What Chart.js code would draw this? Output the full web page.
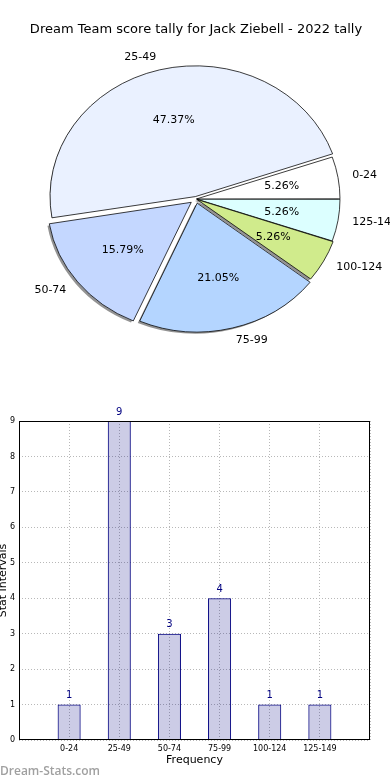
<!DOCTYPE html>
<html>
<head>
<meta charset="utf-8">
<title>Dream Team score tally</title>
<script src="https://cdn.jsdelivr.net/npm/chart.js@4/dist/chart.umd.min.js"></script>
<style>
  body { margin: 0; width: 390px; height: 780px; background: #fff; position: relative; overflow: hidden; }
  #pieWrap { position: absolute; left: 0; top: 0; width: 390px; height: 370px; }
  #barWrap { position: absolute; left: 0; top: 380px; width: 390px; height: 400px; }
  #brand { position: absolute; left: 0; top: 762px; font: 600 12px "Open Sans", sans-serif; color: #a0a0a0; }
</style>
</head>
<body>
<div id="pieWrap"><canvas id="pieChart" width="390" height="370"></canvas></div>
<div id="barWrap"><canvas id="barChart" width="390" height="400"></canvas></div>
<div id="brand">Dream-Stats.com</div>
<script>
// score intervals and number of games in each
const intervals = ["0-24", "25-49", "50-74", "75-99", "100-124", "125-149"];
const counts = [1, 9, 3, 4, 1, 1];
// y axis tick labels of the bar chart
const countTicks = [0, 1, 2, 3, 4, 5, 6, 7, 8, 9];

const FONT = "DejaVu Sans";
const total = counts.reduce((a, b) => a + b, 0);

// slice look (same order as intervals)
const sliceColors = ["#ffffff", "#eaf1ff", "#c4d7ff", "#b4d5ff", "#d0eb8c", "#dcffff"];
const explode = [2.4, 11, 24, 19, 5, 2.4];
const SY = 0.9; // pie is squashed a bit vertically

// matplotlib goes counter clockwise from 3 o'clock, chart.js clockwise,
// so the pie gets everything reversed
const rev = arr => arr.slice().reverse();

// how far chart.js moves an arc for its offset
function shift(arc) {
  const off = (arc.options.offset || 0) / 4;
  const d = off * (2 - Math.sin(Math.min(Math.PI, arc.circumference)));
  const mid = (arc.startAngle + arc.endAngle) / 2;
  return { mid, dx: Math.cos(mid) * d, dy: Math.sin(mid) * d };
}

const squashPie = {
  id: "squashPie",
  beforeDatasetsDraw(chart) {
    const ctx = chart.ctx;
    const arcs = chart.getDatasetMeta(0).data;
    const cx = arcs[0].x, cy = arcs[0].y;
    ctx.save();
    ctx.translate(cx, cy);
    ctx.scale(1, SY);
    ctx.translate(-cx, -cy);
    // drop shadow under all wedges
    ctx.fillStyle = "rgba(40,40,40,0.5)";
    ctx.beginPath();
    arcs.forEach(arc => {
      const s = shift(arc);
      const x = arc.x + s.dx - 2, y = arc.y + s.dy + 2;
      ctx.moveTo(x, y);
      ctx.arc(x, y, arc.outerRadius, arc.startAngle, arc.endAngle);
      ctx.closePath();
    });
    ctx.fill();
  },
  afterDatasetsDraw(chart) {
    const ctx = chart.ctx;
    ctx.restore();
    const arcs = chart.getDatasetMeta(0).data;
    const labels = chart.data.labels;
    const values = chart.data.datasets[0].data;
    ctx.save();
    ctx.font = "11px '" + FONT + "'";
    ctx.fillStyle = "#000";
    ctx.textBaseline = "middle";
    arcs.forEach((arc, i) => {
      const s = shift(arc);
      const R = arc.outerRadius;
      const px = k => arc.x + s.dx + Math.cos(s.mid) * R * k;
      const py = k => arc.y + (s.dy + Math.sin(s.mid) * R * k) * SY;
      ctx.textAlign = "center";
      ctx.fillText((values[i] / total * 100).toFixed(2) + "%", px(0.6), py(0.6));
      ctx.textAlign = Math.cos(s.mid) > 0 ? "left" : "right";
      ctx.fillText(labels[i], px(1.1), py(1.1));
    });
    ctx.restore();
  }
};

new Chart(document.getElementById("pieChart"), {
  type: "pie",
  data: {
    labels: rev(intervals),
    datasets: [{
      data: rev(counts),
      backgroundColor: rev(sliceColors),
      offset: rev(explode),
      borderColor: "#000",
      borderWidth: 0.8
    }]
  },
  options: {
    responsive: false,
    animation: false,
    events: [],
    rotation: 90,
    radius: 143,
    layout: { padding: { left: 2, right: 0, top: 0, bottom: 9.6 } },
    plugins: {
      legend: { display: false },
      tooltip: { enabled: false },
      title: {
        display: true,
        text: "Dream Team score tally for Jack Ziebell - 2022 tally",
        color: "#000",
        font: { family: FONT, size: 13, weight: "normal" },
        padding: { top: 22, bottom: 0 }
      }
    }
  },
  plugins: [squashPie]
});

// box round the plot area plus the numbers over the bars
const frame = {
  id: "frame",
  afterDatasetsDraw(chart) {
    const { ctx, chartArea: a } = chart;
    ctx.save();
    ctx.strokeStyle = "#000";
    ctx.lineWidth = 1;
    ctx.strokeRect(a.left + 0.5, a.top + 0.5, a.right - a.left - 1, a.bottom - a.top - 1);
    ctx.font = "10px '" + FONT + "'";
    ctx.fillStyle = "#000080";
    ctx.textAlign = "center";
    ctx.textBaseline = "middle";
    chart.getDatasetMeta(0).data.forEach((bar, i) => {
      ctx.fillText(counts[i], bar.x, bar.y - 9);
    });
    ctx.restore();
  }
};

const gridStyle = { color: "#b8b8b8", drawTicks: false };
const borderStyle = { display: false, dash: [1, 2] };

new Chart(document.getElementById("barChart"), {
  type: "bar",
  data: {
    datasets: [{
      data: counts.map((c, i) => ({ x: i, y: c })),
      backgroundColor: "rgba(0,0,128,0.2)",
      borderColor: "#000080",
      borderWidth: 1,
      barPercentage: 0.46,
      categoryPercentage: 1
    }]
  },
  options: {
    responsive: false,
    animation: false,
    events: [],
    layout: { padding: { top: 41, right: 20, left: 0, bottom: 0 } },
    plugins: { legend: { display: false }, tooltip: { enabled: false } },
    scales: {
      x: {
        type: "linear",
        offset: false,
        min: -1,
        max: intervals.length,
        afterFit: s => { s.height = 40; },
        ticks: {
          stepSize: 1, autoSkip: false, maxRotation: 0, padding: 4,
          color: "#000", font: { family: FONT, size: 8 },
          callback: v => intervals[v] || ""
        },
        grid: { ...gridStyle, offset: false },
        border: borderStyle,
        title: {
          display: true, text: "Frequency", color: "#000",
          font: { family: FONT, size: 11 }, padding: { top: 0, bottom: 13 }
        }
      },
      y: {
        min: countTicks[0],
        max: countTicks[countTicks.length - 1],
        afterFit: s => { s.width = 19; },
        ticks: { stepSize: 1, padding: 4, color: "#000", font: { family: FONT, size: 8 } },
        grid: gridStyle,
        border: borderStyle,
        title: {
          display: true, text: "Stat Intervals", color: "#000",
          font: { family: FONT, size: 11 }, padding: { top: -3, bottom: 0 }
        }
      }
    }
  },
  plugins: [frame]
});
</script>
</body>
</html>
